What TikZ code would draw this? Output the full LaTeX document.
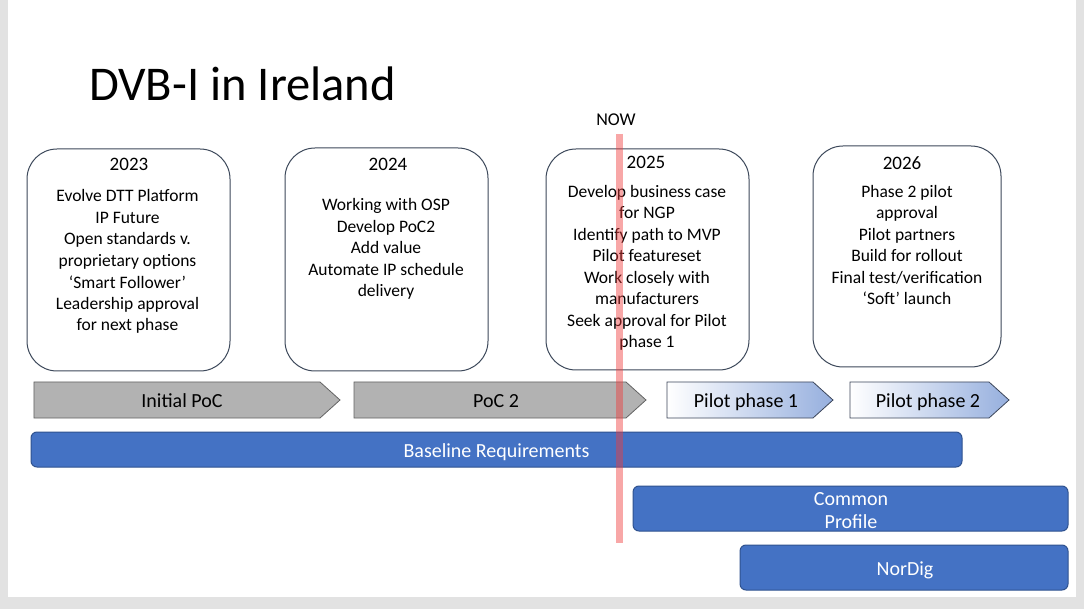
\documentclass[tikz,border=0pt]{standalone}
\usepackage{fontspec}
\setmainfont{Carlito}
\usetikzlibrary{shapes.symbols}
\definecolor{boxline}{RGB}{60,72,90}
\definecolor{barblue}{RGB}{68,114,196}
\definecolor{barline}{RGB}{47,82,143}
\definecolor{arrgray}{RGB}{178,178,178}
\definecolor{arrline}{RGB}{100,100,100}
\definecolor{pilotblue}{RGB}{150,175,222}
\definecolor{pilotline}{RGB}{60,70,90}
\definecolor{bggray}{RGB}{226,226,226}
\definecolor{nowred}{RGB}{240,60,60}
\begin{document}
\begin{tikzpicture}[x=1pt,y=-1pt,
  yearbox/.style={draw=boxline, line width=1pt, rounded corners=30pt, inner sep=0},
  bodytxt/.style={align=center, font=\fontsize{17.5}{21.5}\selectfont, anchor=base, inner sep=0},
  yeartxt/.style={font=\fontsize{19}{22}\selectfont, anchor=base, inner sep=0},
  phasearrow/.style={shape=signal, signal to=east, signal pointer angle=84, line width=0.8pt,
    minimum height=36pt, inner sep=0},
  grayarrow/.style={phasearrow, draw=arrline, fill=arrgray},
  pilotarrow/.style={phasearrow, draw=pilotline, left color=white, right color=pilotblue},
  phasetxt/.style={inner sep=0, anchor=base, font=\fontsize{20}{23}\selectfont},
  bluebar/.style={draw=barline, line width=1pt, fill=barblue, rounded corners=6pt, inner sep=0},
  bartxt/.style={inner sep=0, anchor=base, text=white, align=center, font=\fontsize{20}{23}\selectfont}
]
\useasboundingbox (0,0) rectangle (1084,609);
\fill[bggray] (0,0) rectangle (1084,609);
\fill[white] (8,0) rectangle (1076,597);

\node[anchor=base west, inner sep=0, font=\fontsize{48.5}{56}\selectfont] (title) at (89,101) {DVB-I in Ireland};
\node[anchor=base, inner sep=0, font=\fontsize{18}{22}\selectfont] (now) at (616,126) {NOW};

% year boxes
\node[yearbox, minimum width=203pt, minimum height=222pt] (b23) at (128.5,260) {};
\node[yearbox, minimum width=203pt, minimum height=223pt] (b24) at (386.5,259.5) {};
\node[yearbox, minimum width=203pt, minimum height=221pt] (b25) at (647.5,259.5) {};
\node[yearbox, minimum width=188pt, minimum height=221pt] (b26) at (907,256.5) {};

\node[yeartxt] (y23) at (129,171) {2023};
\node[yeartxt] (y24) at (388,171) {2024};
\node[yeartxt] (y25) at (646,169) {2025};
\node[yeartxt] (y26) at (902,170) {2026};

% anchor=base is the baseline of the last line
\node[bodytxt] (t23) at (127.5,331) {Evolve DTT Platform\\IP Future\\Open standards v.\\proprietary options\\‘Smart Follower’\\Leadership approval\\for next phase};
\node[bodytxt] (t24) at (386,297) {Working with OSP\\Develop PoC2\\Add value\\Automate IP schedule\\delivery};
\node[bodytxt] (t25) at (647,348) {Develop business case\\for NGP\\Identify path to MVP\\Pilot featureset\\Work closely with\\manufacturers\\Seek approval for Pilot\\phase 1};
\node[bodytxt] (t26) at (907,305) {Phase 2 pilot\\approval\\Pilot partners\\Build for rollout\\Final test/verification\\‘Soft’ launch};

% phase arrows
\node[grayarrow, minimum width=306pt] (p1) at (177,400) {};
\node[grayarrow, minimum width=292pt] (p2) at (490,400) {};
\node[pilotarrow, minimum width=166pt] (p3) at (740,400) {};
\node[pilotarrow, minimum width=159pt] (p4) at (919.5,400) {};
\node[phasetxt] (l1) at (182,407) {Initial PoC};
\node[phasetxt] (l2) at (496,407) {PoC 2};
\node[phasetxt] (l3) at (746,407) {Pilot phase 1};
\node[phasetxt] (l4) at (928,407) {Pilot phase 2};

% requirement bars
\node[bluebar, minimum width=931pt, minimum height=35pt] (base) at (496.5,449.5) {};
\node[bluebar, minimum width=435pt, minimum height=45pt] (common) at (850.5,508.5) {};
\node[bluebar, minimum width=328pt, minimum height=45pt] (nordig) at (904,567.5) {};
\node[bartxt] (basetxt) at (496.5,457) {Baseline Requirements};
\node[bartxt] (commontxt) at (851,528) {Common\\Profile};
\node[bartxt] (nordigtxt) at (905,575) {NorDig};

% NOW line
\coordinate (nowtop) at (619,134);
\coordinate (nowbot) at (619,543);
\draw[nowred, opacity=0.45, line width=7pt] (nowtop) -- (nowbot);
\end{tikzpicture}
\end{document}
